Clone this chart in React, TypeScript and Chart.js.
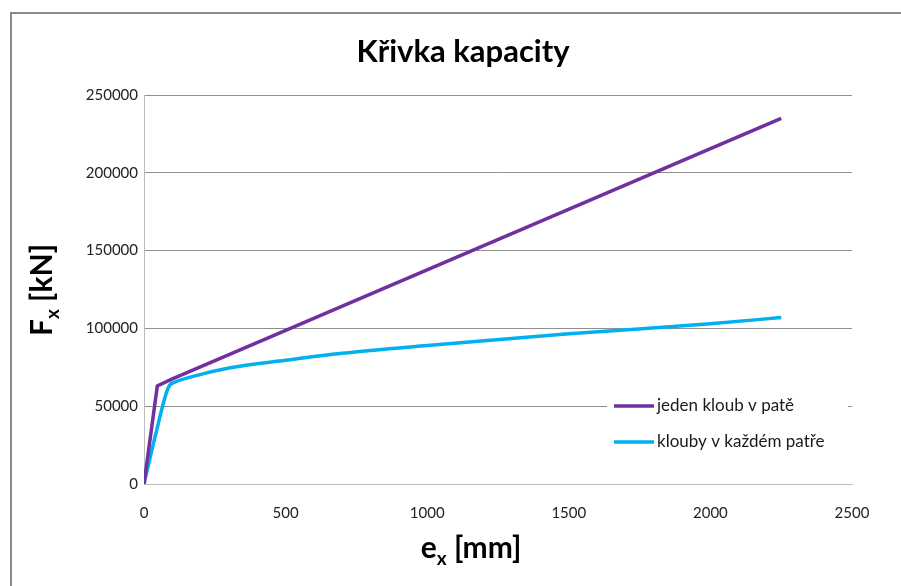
import React, { useEffect, useRef } from "react";
import { Chart, registerables } from "chart.js";

Chart.register(...registerables);

const titleText = "Křivka kapacity";
const series1Name = "jeden kloub v patě";
const series2Name = "klouby v každém patře";

const purpleX = [0, 47, 100, 2250];
const purpleY = [0, 63000, 67500, 235000];

const cyanX = [0, 40, 86, 110, 160, 300, 500, 700, 1000, 1500, 2000, 2250];
const cyanY = [0, 31000, 62000, 65500, 68500, 74500, 79500, 84000, 89000, 96500, 103000, 107000];

const xTicks = [0, 500, 1000, 1500, 2000, 2500];
const yTicks = [0, 50000, 100000, 150000, 200000, 250000];

const PURPLE = "#7030A0";
const CYAN = "#00B0F0";
const FONT = "Lato";

const decorPlugin = {
  id: "decor",
  beforeDraw(chart: any) {
    const ctx = chart.ctx;
    ctx.save();
    ctx.fillStyle = "#ffffff";
    ctx.fillRect(0, 0, chart.width, chart.height);
    ctx.restore();
  },
  afterDraw(chart: any) {
    const ctx = chart.ctx;
    ctx.save();
    // outer frame
    ctx.strokeStyle = "#8a8a8a";
    ctx.lineWidth = 2;
    ctx.strokeRect(11, 13, chart.width + 20, chart.height + 20);

    // title
    ctx.fillStyle = "#000000";
    ctx.textAlign = "center";
    ctx.textBaseline = "middle";
    ctx.font = `bold 31px ${FONT}`;
    ctx.fillText(titleText, 463, 52);

    const big = `bold 30px ${FONT}`;
    const small = `bold 19px ${FONT}`;

    // x axis title: e_x [mm]
    ctx.font = big;
    const eW = ctx.measureText("e").width;
    ctx.font = small;
    const subW = ctx.measureText("x").width;
    ctx.font = big;
    const restW = ctx.measureText(" [mm]").width;
    const total = eW + subW + restW;
    let sx = 471 - total / 2;
    ctx.textAlign = "left";
    ctx.textBaseline = "alphabetic";
    ctx.fillText("e", sx, 558);
    sx += eW;
    ctx.font = small;
    ctx.fillText("x", sx, 565);
    sx += subW;
    ctx.font = big;
    ctx.fillText(" [mm]", sx, 558);

    // y axis title: F_x [kN], rotated
    ctx.save();
    ctx.translate(52, 290);
    ctx.rotate(-Math.PI / 2);
    ctx.font = big;
    const fW = ctx.measureText("F").width;
    ctx.font = small;
    const fsW = ctx.measureText("x").width;
    ctx.font = big;
    const fRest = ctx.measureText(" [kN]").width;
    let fx = -(fW + fsW + fRest) / 2;
    ctx.fillText("F", fx, 0);
    fx += fW;
    ctx.font = small;
    ctx.fillText("x", fx, 7);
    fx += fsW;
    ctx.font = big;
    ctx.fillText(" [kN]", fx, 0);
    ctx.restore();

    // legend
    ctx.fillStyle = "#ffffff";
    ctx.fillRect(607, 386, 241, 74);
    const items = [
      { name: series1Name, color: PURPLE, y: 406 },
      { name: series2Name, color: CYAN, y: 442 },
    ];
    ctx.font = `17px ${FONT}`;
    ctx.textBaseline = "middle";
    ctx.textAlign = "left";
    for (const it of items) {
      ctx.strokeStyle = it.color;
      ctx.lineWidth = 3.5;
      ctx.beginPath();
      ctx.moveTo(614, it.y);
      ctx.lineTo(654, it.y);
      ctx.stroke();
      ctx.fillStyle = "#1a1a1a";
      ctx.fillText(it.name, 657, it.y);
    }
    ctx.restore();
  },
};

export default function App() {
  const ref = useRef<HTMLCanvasElement | null>(null);

  useEffect(() => {
    document.body.style.margin = "0";
    const canvas = ref.current;
    if (!canvas) return;
    const chart = new Chart(canvas, {
      type: "scatter",
      data: {
        datasets: [
          {
            label: series1Name,
            data: purpleX.map((x, i) => ({ x, y: purpleY[i] })),
            showLine: true,
            borderColor: PURPLE,
            backgroundColor: PURPLE,
            borderWidth: 3.5,
            pointRadius: 0,
            tension: 0,
          },
          {
            label: series2Name,
            data: cyanX.map((x, i) => ({ x, y: cyanY[i] })),
            showLine: true,
            borderColor: CYAN,
            backgroundColor: CYAN,
            borderWidth: 3.5,
            pointRadius: 0,
            cubicInterpolationMode: "monotone",
          },
        ],
      },
      options: {
        responsive: false,
        animation: false,
        layout: { padding: { left: 0, top: 95, right: 49, bottom: 0 } },
        plugins: {
          legend: { display: false },
          title: { display: false },
          tooltip: { enabled: false },
        },
        scales: {
          x: {
            type: "linear",
            min: 0,
            max: 2500,
            afterBuildTicks: (s: any) => {
              s.ticks = xTicks.map((v) => ({ value: v }));
            },
            afterFit: (s: any) => {
              s.height = 102;
            },
            grid: { display: false, drawTicks: false },
            border: { display: true, color: "#bdbdbd", width: 1 },
            ticks: {
              padding: 20,
              color: "#222",
              font: { family: FONT, size: 15 },
              maxRotation: 0,
              callback: (v: any) => String(v),
            },
          },
          y: {
            type: "linear",
            min: 0,
            max: 250000,
            afterBuildTicks: (s: any) => {
              s.ticks = yTicks.map((v) => ({ value: v }));
            },
            afterFit: (s: any) => {
              s.width = 144;
            },
            grid: { color: "#8f8f8f", lineWidth: 1, drawTicks: false },
            border: { display: true, color: "#bdbdbd", width: 1 },
            ticks: {
              padding: 6,
              color: "#222",
              font: { family: FONT, size: 15 },
              callback: (v: any) => String(v),
            },
          },
        },
      },
      plugins: [decorPlugin],
    });
    return () => chart.destroy();
  }, []);

  return (
    <div style={{ position: "fixed", left: 0, top: 0, width: 901, height: 586 }}>
      <canvas ref={ref} width={901} height={586} />
    </div>
  );
}
